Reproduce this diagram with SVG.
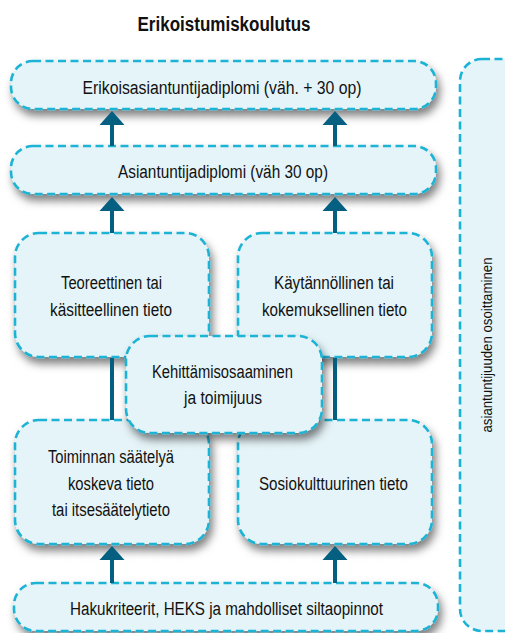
<svg xmlns="http://www.w3.org/2000/svg" width="505" height="633" viewBox="0 0 505 633">
<defs>
<style>
.box{fill:#e5f4f8;stroke:#1ab3d5;stroke-width:2.6;stroke-dasharray:8 4.5}
.t{font-family:"Liberation Sans",Arial,sans-serif;font-size:18px;fill:#111;text-anchor:middle}
.vt{font-family:"Liberation Sans",Arial,sans-serif;font-size:15px;fill:#111;text-anchor:middle}
.title{font-family:"Liberation Sans",Arial,sans-serif;font-size:20px;font-weight:bold;fill:#111;text-anchor:middle}
.ln{stroke:#045f80;stroke-width:4;fill:none}
.ah{fill:#045f80}
</style>
<filter id="sh" x="-10%" y="-20%" width="130%" height="160%">
<feDropShadow dx="3" dy="6" stdDeviation="4" flood-color="#000" flood-opacity="0.5"/>
</filter>
</defs>
<rect width="505" height="633" fill="#fff"/>
<text class="title" x="224" y="31" textLength="173" lengthAdjust="spacingAndGlyphs">Erikoistumiskoulutus</text>

<g id="panel">
<rect class="box" x="460" y="59" width="70" height="572" rx="22"/>
<text class="vt" transform="translate(492,345) rotate(-90)" x="0" y="0" textLength="175" lengthAdjust="spacingAndGlyphs">asiantuntijuuden osoittaminen</text>
</g>

<g id="n1" filter="url(#sh)">
<rect class="box" x="11" y="61" width="425" height="48" rx="22"/>
</g>
<text class="t" x="222" y="94" textLength="279" lengthAdjust="spacingAndGlyphs">Erikoisasiantuntijadiplomi (väh. + 30 op)</text>

<g id="n2" filter="url(#sh)">
<rect class="box" x="11" y="146" width="425" height="48" rx="22"/>
</g>
<text class="t" x="223" y="178" textLength="210" lengthAdjust="spacingAndGlyphs">Asiantuntijadiplomi (väh 30 op)</text>

<g id="n3" filter="url(#sh)">
<rect class="box" x="15" y="233" width="194" height="124" rx="24"/>
</g>
<g id="n4" filter="url(#sh)">
<rect class="box" x="238" y="233" width="194" height="124" rx="24"/>
</g>
<g id="n6" filter="url(#sh)">
<rect class="box" x="15" y="420" width="194" height="124" rx="24"/>
</g>
<g id="n7" filter="url(#sh)">
<rect class="box" x="238" y="420" width="194" height="124" rx="24"/>
</g>
<g id="n8" filter="url(#sh)">
<rect class="box" x="14" y="583" width="424" height="48" rx="22"/>
</g>

<g id="connectors">
<line class="ln" x1="112" y1="124" x2="112" y2="146"/>
<polygon class="ah" points="112,111 124.5,125 99.5,125"/>
<line class="ln" x1="335" y1="124" x2="335" y2="146"/>
<polygon class="ah" points="335,111 347.5,125 322.5,125"/>
<line class="ln" x1="112" y1="210" x2="112" y2="233"/>
<polygon class="ah" points="112,197 124.5,211 99.5,211"/>
<line class="ln" x1="335" y1="210" x2="335" y2="233"/>
<polygon class="ah" points="335,197 347.5,211 322.5,211"/>
<line class="ln" x1="112" y1="358" x2="112" y2="420"/>
<line class="ln" x1="335" y1="358" x2="335" y2="420"/>
<line class="ln" x1="112" y1="559" x2="112" y2="583"/>
<polygon class="ah" points="112,546 124.5,560 99.5,560"/>
<line class="ln" x1="335" y1="559" x2="335" y2="583"/>
<polygon class="ah" points="335,546 347.5,560 322.5,560"/>
</g>

<g id="n5" filter="url(#sh)">
<rect class="box" x="126" y="336" width="196" height="97" rx="24"/>
</g>

<g id="labels">
<text class="t" x="111.5" y="289" textLength="101" lengthAdjust="spacingAndGlyphs">Teoreettinen tai</text>
<text class="t" x="111" y="316" textLength="122" lengthAdjust="spacingAndGlyphs">käsitteellinen tieto</text>
<text class="t" x="334" y="289" textLength="120" lengthAdjust="spacingAndGlyphs">Käytännöllinen tai</text>
<text class="t" x="334.5" y="316" textLength="145" lengthAdjust="spacingAndGlyphs">kokemuksellinen tieto</text>
<text class="t" x="222.5" y="378" textLength="141" lengthAdjust="spacingAndGlyphs">Kehittämisosaaminen</text>
<text class="t" x="223" y="404" textLength="78" lengthAdjust="spacingAndGlyphs">ja toimijuus</text>
<text class="t" x="111" y="463" textLength="126" lengthAdjust="spacingAndGlyphs">Toiminnan säätelyä</text>
<text class="t" x="111" y="490" textLength="86" lengthAdjust="spacingAndGlyphs">koskeva tieto</text>
<text class="t" x="111" y="516" textLength="118" lengthAdjust="spacingAndGlyphs">tai itsesäätelytieto</text>
<text class="t" x="333.5" y="490" textLength="149" lengthAdjust="spacingAndGlyphs">Sosiokulttuurinen tieto</text>
<text class="t" x="226.5" y="615" textLength="313" lengthAdjust="spacingAndGlyphs">Hakukriteerit, HEKS ja mahdolliset siltaopinnot</text>
</g>
</svg>
